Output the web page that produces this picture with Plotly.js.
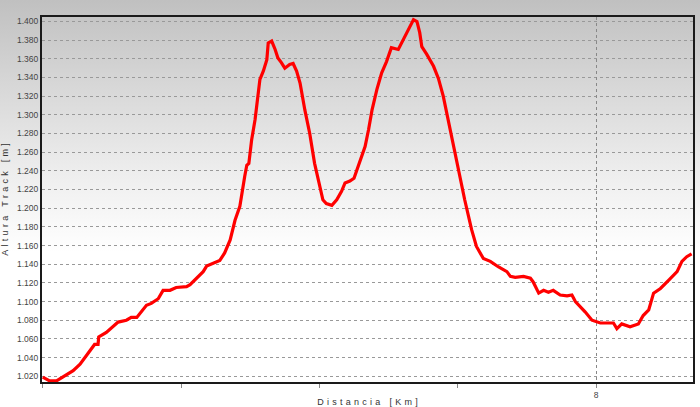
<!DOCTYPE html>
<html>
<head>
<meta charset="utf-8">
<script src="https://cdn.plot.ly/plotly-3.0.1.min.js"></script>
<style>
  html, body { margin: 0; padding: 0; }
  body { width: 700px; height: 407px; overflow: hidden;
         background: linear-gradient(to bottom, #c0c0c0 0%, #d6d6d6 20%, #ededed 42%, #ffffff 62%, #ffffff 100%); }
  #chart { width: 700px; height: 407px; }
</style>
</head>
<body>
<div id="chart"></div>
<script>
// Distance along the track (km)
const distanceKm = [
  0.00, 0.10, 0.20, 0.34, 0.44, 0.54, 0.61, 0.68, 0.75, 0.80, 0.81, 0.92, 1.09, 1.21, 1.28, 1.36,
  1.43, 1.50, 1.57, 1.67, 1.74, 1.84, 1.93, 2.08, 2.13, 2.22, 2.32, 2.37, 2.46, 2.56, 2.63, 2.68,
  2.71, 2.78, 2.85, 2.92, 2.95, 2.98, 3.02, 3.07, 3.10, 3.14, 3.19, 3.24, 3.26, 3.31, 3.36, 3.40,
  3.45, 3.50, 3.57, 3.62, 3.67, 3.72, 3.79, 3.86, 3.93, 4.01, 4.05, 4.10, 4.18, 4.25, 4.32, 4.37,
  4.44, 4.50, 4.56, 4.61, 4.66, 4.71, 4.76, 4.83, 4.90, 4.97, 5.04, 5.14, 5.19, 5.28, 5.36, 5.41,
  5.45, 5.48, 5.55, 5.65, 5.72, 5.79, 5.89, 5.94, 6.01, 6.10, 6.20, 6.27, 6.37, 6.47, 6.59, 6.71,
  6.76, 6.83, 6.95, 7.05, 7.09, 7.17, 7.24, 7.31, 7.38, 7.48, 7.58, 7.65, 7.70, 7.77, 7.84, 7.94,
  8.06, 8.15, 8.25, 8.30, 8.37, 8.49, 8.61, 8.68, 8.76, 8.83, 8.93, 9.05, 9.17, 9.24, 9.31, 9.38
];
// Track altitude (m)
const altitudeM = [
  1019, 1015, 1015, 1021, 1026, 1033, 1040, 1048, 1054, 1054, 1062, 1067, 1078, 1080, 1083, 1083,
  1089, 1096, 1098, 1103, 1112, 1112, 1115, 1116, 1118, 1125, 1132, 1138, 1141, 1144, 1152, 1160,
  1166, 1187, 1202, 1234, 1246, 1248, 1273, 1295, 1316, 1338, 1347, 1359, 1377, 1379, 1370, 1361,
  1356, 1350, 1354, 1355, 1347, 1334, 1305, 1280, 1248, 1223, 1209, 1205, 1203, 1209, 1218, 1227,
  1229, 1232, 1245, 1257, 1266, 1284, 1305, 1327, 1345, 1357, 1372, 1370, 1377, 1390, 1402, 1400,
  1388, 1373, 1365, 1352, 1339, 1320, 1284, 1263, 1238, 1209, 1177, 1159, 1146, 1143, 1137, 1132,
  1127, 1126, 1127, 1125, 1121, 1109, 1112, 1110, 1112, 1107, 1106, 1107, 1100, 1095, 1089, 1080,
  1077, 1077, 1077, 1071, 1076, 1073, 1076, 1085, 1091, 1109, 1114, 1123, 1132, 1143, 1148, 1151
];
const xTickVals = [0, 2, 4, 6, 8];
const xTickText = ['', '', '', '', '8'];
const xGridVals = [8];
const xTitle = 'Distancia [Km]';
const yTitle = 'Altura Track [m]';

// spread letters (the original uses wide letter spacing)
function spaced(s) {
  const gap = '\u00A0\u200A';
  return s.split(' ').map(w => w.split('').join(gap)).join(gap + gap + '\u00A0');
}

const axisFont = { family: 'Liberation Sans, Arial, sans-serif', size: 8.5, color: '#444' };
const titleFont = { family: 'Liberation Sans, Arial, sans-serif', size: 9, color: '#333' };

const traces = [
  {
    x: distanceKm, y: altitudeM, type: 'scatter', mode: 'lines',
    line: { color: '#ff0000', width: 3.2 },
    hoverinfo: 'x+y'
  },
  {
    x: [distanceKm[0]], y: [altitudeM[0]], xaxis: 'x2', type: 'scatter', mode: 'none',
    showlegend: false, hoverinfo: 'skip'
  }
];

const layout = {
  width: 700, height: 407,
  margin: { l: 42, r: 7, t: 17, b: 25 },
  paper_bgcolor: 'rgba(0,0,0,0)',
  plot_bgcolor: 'rgba(0,0,0,0)',
  showlegend: false,
  separators: ',.',
  xaxis: {
    range: [-0.01, 9.40],
    tickvals: xTickVals, ticktext: xTickText,
    ticks: 'outside', ticklen: 4, tickwidth: 1, tickcolor: '#888',
    showgrid: false, zeroline: false,
    showline: true, linecolor: '#1a1a1a', linewidth: 2, mirror: true,
    tickfont: axisFont,
    title: { text: spaced(xTitle), font: titleFont, standoff: 4 }
  },
  xaxis2: {
    overlaying: 'x', matches: 'x', range: [-0.01, 9.40],
    tickvals: xGridVals, showticklabels: false, ticks: '',
    showgrid: true, gridcolor: '#888', griddash: 'dot', gridwidth: 1,
    zeroline: false, showline: false
  },
  yaxis: {
    range: [1013.8, 1404.8],
    tick0: 1020, dtick: 20,
    tickformat: ',.0f',
    ticks: '',
    showgrid: true, gridcolor: '#999', griddash: 'dot', gridwidth: 1,
    zeroline: false,
    showline: true, linecolor: '#1a1a1a', linewidth: 2, mirror: true,
    tickfont: axisFont,
    title: { text: spaced(yTitle), font: titleFont, standoff: 8 }
  }
};

Plotly.newPlot('chart', traces, layout, { displayModeBar: false, staticPlot: true });
</script>
</body>
</html>
